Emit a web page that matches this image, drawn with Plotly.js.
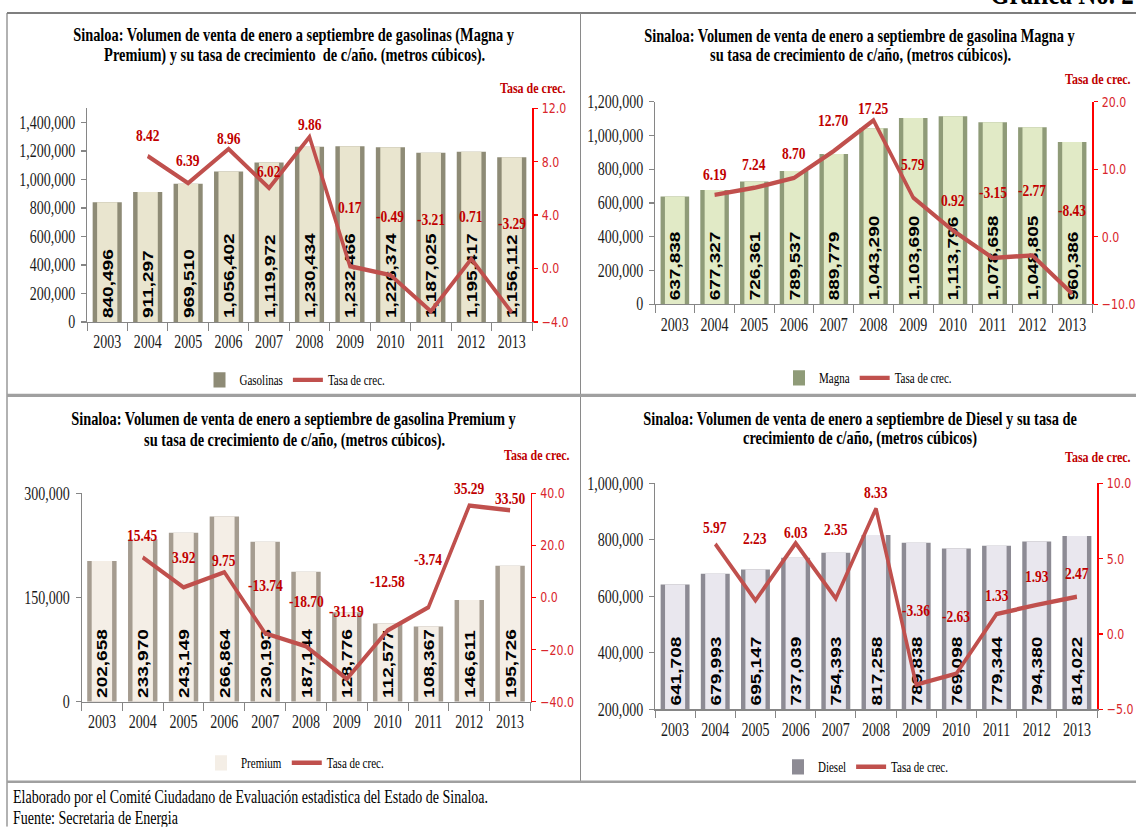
<!DOCTYPE html>
<html>
<head>
<meta charset="utf-8">
<script src="https://cdn.plot.ly/plotly-3.0.1.min.js"></script>
<style>
html,body{margin:0;padding:0;background:#fff;width:1136px;height:827px;overflow:hidden}
#wrap{position:relative;width:1136px;height:827px;overflow:hidden;background:#fff}
#chart{position:absolute;left:0;top:0;width:1136px;height:651px;transform:scaleY(1.27);transform-origin:0 0}
</style>
</head>
<body>
<div id="wrap"><div id="chart"></div></div>
<script>
// ---------------- data ----------------
const years = ['2003','2004','2005','2006','2007','2008','2009','2010','2011','2012','2013'];
const rateYears = years.slice(1);

const gasolinas = [840496, 911297, 969510, 1056402, 1119972, 1230434, 1232466, 1226374, 1187025, 1195417, 1156112];
const gasolinasRate = [8.42, 6.39, 8.96, 6.02, 9.86, 0.17, -0.49, -3.21, 0.71, -3.29];

const magna = [637838, 677327, 726361, 789537, 889779, 1043290, 1103690, 1113796, 1078658, 1048805, 960386];
const magnaRate = [6.19, 7.24, 8.70, 12.70, 17.25, 5.79, 0.92, -3.15, -2.77, -8.43];

const premium = [202658, 233970, 243149, 266864, 230193, 187144, 128776, 112577, 108367, 146611, 195726];
const premiumRate = [15.45, 3.92, 9.75, -13.74, -18.70, -31.19, -12.58, -3.74, 35.29, 33.50];

const diesel = [641708, 679993, 695147, 737039, 754393, 817258, 789838, 769098, 779344, 794380, 814022];
const dieselRate = [5.97, 2.23, 6.03, 2.35, 8.33, -3.36, -2.63, 1.33, 1.93, 2.47];

// label offsets above each rate point (reference pixels)
const gasLabelShift = [21, 23, 11, 17, 13, 58, 59, 92, 42, 89];
const magnaLabelShift = [20, 23, 25, 31, 12, 33, 31, 65, 65, 83];
const premLabelShift = [22, 31, 11, 49, 45, 67, 49, 48, 17, 12];
const dieselLabelShift = [16, 62, 10, 70, 16, 74, 57, 19, 29, 24];

// ---------------- geometry helpers ----------------
const S = 1.27, W = 1136, H = 827;
const px = x => x / W;
const py = y => 1 - y / H;

const SERIF = 'Liberation Serif, Times New Roman, serif';
const SANS = 'Liberation Sans, Arial, sans-serif';
const RED_TXT = '#c00000';
const LINE_COL = '#c0504d';

const panels = [
  {name:'Gasolinas', vals:gasolinas, rate:gasolinasRate, shift:gasLabelShift,
   outer:'#8e8b76', face:'#e9e5cf', xi:1, yl:1, yr:2, legend:'legend',
   dom:{x:[87,532], y:[108.3,322]}, yrange:[0,1500000], ydtick:200000, rrange:[-4,12], rdtick:4,
   title:['Sinaloa: Volumen de venta de enero a septiembre de gasolinas (Magna y','Premium) y su tasa de crecimiento  de c/año. (metros cúbicos).'],
   tcx:294, ty:[35,55], tasa:{x:498,y:88}, leg:{x:295,y:380}, legFace:false},
  {name:'Magna', vals:magna, rate:magnaRate, shift:magnaLabelShift,
   outer:'#8f9b78', face:'#e1eac6', xi:2, yl:3, yr:4, legend:'legend2',
   dom:{x:[655,1092], y:[101.7,304.3]}, yrange:[0,1200000], ydtick:200000, rrange:[-10,20], rdtick:10,
   title:['Sinaloa: Volumen de venta de enero a septiembre de gasolina Magna y','su tasa de crecimiento de c/año, (metros cúbicos).'],
   tcx:860, ty:[35,55], tasa:{x:1063,y:79}, leg:{x:868,y:378}, legFace:false},
  {name:'Premium', vals:premium, rate:premiumRate, shift:premLabelShift,
   outer:'#a59c90', face:'#f4eee6', xi:3, yl:5, yr:6, legend:'legend3',
   dom:{x:[81.5,530.5], y:[493.5,702]}, yrange:[0,300000], ydtick:150000, rrange:[-40,40], rdtick:20,
   title:['Sinaloa: Volumen de venta de enero a septiembre de gasolina Premium y','su tasa de crecimiento de c/año, (metros cúbicos).'],
   tcx:294, ty:[419,440], tasa:{x:502,y:455}, leg:{x:295,y:763}, legFace:true},
  {name:'Diesel', vals:diesel, rate:dieselRate, shift:dieselLabelShift,
   outer:'#8d8b94', face:'#e9e7ee', xi:4, yl:7, yr:8, legend:'legend4',
   dom:{x:[655,1097], y:[483.5,709.5]}, yrange:[200000,1000000], ydtick:200000, rrange:[-5,10], rdtick:5,
   title:['Sinaloa: Volumen de venta de enero a septiembre de Diesel y su tasa de','crecimiento de c/año, (metros cúbicos)'],
   tcx:860, ty:[419,439], tasa:{x:1063,y:457}, leg:{x:866,y:767}, legFace:false}
];

const axName = (p, i) => i === 1 ? p : p + i;
const axRef = (p, i) => i === 1 ? p : p + i;

const traces = [];
const annotations = [];
const layout = {
  width: W, height: Math.round(H / S),
  margin: {l:0, r:0, t:0, b:0},
  paper_bgcolor: '#fff', plot_bgcolor: 'rgba(0,0,0,0)',
  barmode: 'overlay',
  showlegend: true,
  font: {family: SERIF, color:'#000'},
  shapes: [],
  annotations: annotations
};

panels.forEach(p => {
  const xr = axRef('x', p.xi), ylr = axRef('y', p.yl), yrr = axRef('y', p.yr);
  // outer (edge) bar
  traces.push({
    type:'bar', x:years, y:p.vals, xaxis:xr, yaxis:ylr, width:0.72,
    marker:{color:p.outer, line:{width:0}}, name:p.name, legend:p.legend,
    showlegend:!p.legFace, hoverinfo:'skip'
  });
  // face bar
  traces.push({
    type:'bar', x:years, y:p.vals, xaxis:xr, yaxis:ylr, width:0.5,
    marker:{color:p.face, line:{width:0}}, name:p.name, legend:p.legend,
    showlegend:p.legFace, hoverinfo:'skip'
  });
  // value labels carried by a transparent full-width bar, anchored at the axis floor
  traces.push({
    type:'bar', x:years, y:p.vals, base:p.yrange[0], xaxis:xr, yaxis:ylr, width:0.72,
    marker:{color:'rgba(0,0,0,0)', line:{width:0}}, showlegend:false,
    text:p.vals.map(v => v.toLocaleString('en-US')),
    texttemplate:'%{text}', textposition:'inside', insidetextanchor:'start',
    textangle:-90, constraintext:'none',
    textfont:{family:SANS, size:15, color:'#000', weight:'bold'},
    hoverinfo:'skip'
  });
  // growth rate line
  traces.push({
    type:'scatter', mode:'lines', x:rateYears, y:p.rate, xaxis:xr, yaxis:yrr,
    line:{color:LINE_COL, width:3.5}, name:'Tasa de crec.', legend:p.legend,
    hoverinfo:'skip'
  });
  // rate labels
  p.rate.forEach((v, i) => {
    annotations.push({
      x:years.indexOf(rateYears[i]), y:v, xref:xr, yref:yrr, text:v.toFixed(2), showarrow:false,
      yshift:p.shift[i] / S, xanchor:'center', yanchor:'middle',
      font:{family:SERIF, size:13.5, color:RED_TXT, weight:'bold'}
    });
  });
  // axes
  layout[axName('xaxis', p.xi)] = {
    domain:[px(p.dom.x[0]), px(p.dom.x[1])], anchor:ylr, type:'category',
    range:[-0.5, 10.5], showline:true, linecolor:'#868686', linewidth:1,
    ticks:'outside', tickson:'boundaries', ticklen:6, tickcolor:'#868686',
    tickfont:{family:SERIF, size:14, color:'#1a1a1a'}, showgrid:false, zeroline:false,
    ticklabelstandoff:3, fixedrange:true
  };
  layout[axName('yaxis', p.yl)] = {
    domain:[py(p.dom.y[1]), py(p.dom.y[0])], anchor:xr, range:p.yrange, dtick:p.ydtick,
    tickformat:',', showline:true, linecolor:'#868686', linewidth:1,
    ticks:'outside', ticklen:5, tickcolor:'#868686',
    tickfont:{family:SERIF, size:14, color:'#1a1a1a'}, showgrid:false, zeroline:false,
    ticklabelstandoff:3, fixedrange:true
  };
  layout[axName('yaxis', p.yr)] = {
    overlaying:ylr, anchor:xr, side:'right', range:p.rrange, dtick:p.rdtick,
    tickformat:'.1f', showline:true, linecolor:'#ff0000', linewidth:1.5,
    ticks:'outside', ticklen:4, tickcolor:'#ff0000',
    tickfont:{family:'DejaVu Sans, sans-serif', size:11, color:'#d9262c'},
    showgrid:false, zeroline:false, ticklabelstandoff:2, fixedrange:true
  };
  // legend
  layout[p.legend] = {
    orientation:'h', x:px(p.leg.x), y:py(p.leg.y), xanchor:'center', yanchor:'middle',
    font:{family:SERIF, size:11, color:'#000'}, bgcolor:'rgba(0,0,0,0)', itemwidth:30,
    traceorder:'normal'
  };
  // titles
  p.title.forEach((t, k) => {
    annotations.push({
      x:px(p.tcx), y:py(p.ty[k]), xref:'paper', yref:'paper', text:t, showarrow:false,
      xanchor:'center', yanchor:'middle',
      font:{family:SERIF, size:14.4, color:'#000', weight:'bold'}
    });
  });
  annotations.push({
    x:px(p.tasa.x), y:py(p.tasa.y), xref:'paper', yref:'paper', text:'Tasa de crec.',
    showarrow:false, xanchor:'left', yanchor:'middle',
    font:{family:SERIF, size:12, color:RED_TXT, weight:'bold'}
  });
});

// page heading (cut off at top, as in the source) and footer
annotations.push({
  x:px(988), y:py(13), xref:'paper', yref:'paper', text:'Gráfica No. 2', showarrow:false,
  xanchor:'left', yanchor:'bottom', font:{family:SERIF, size:25, color:'#000', weight:'bold'}
});
annotations.push({
  x:px(11), y:py(797), xref:'paper', yref:'paper',
  text:'Elaborado por el Comité Ciudadano de Evaluación estadistica del Estado de Sinaloa.',
  showarrow:false, xanchor:'left', yanchor:'middle', font:{family:SERIF, size:14, color:'#000'}
});
annotations.push({
  x:px(11), y:py(819), xref:'paper', yref:'paper', text:'Fuente: Secretaria de Energia',
  showarrow:false, xanchor:'left', yanchor:'middle', font:{family:SERIF, size:14, color:'#000'}
});

// panel frame lines
const lineShape = (x0, y0, x1, y1, color, width) => ({
  type:'line', xref:'paper', yref:'paper', x0:px(x0), y0:py(y0), x1:px(x1), y1:py(y1),
  line:{color:color, width:width}, layer:'below'
});
layout.shapes.push(lineShape(7, 13, 1136, 13, '#7f7f7f', 1.5));
layout.shapes.push(lineShape(7, 13, 7, 827, '#7f7f7f', 1.2));
layout.shapes.push(lineShape(580.5, 13, 580.5, 782, '#8a8a8a', 1));
layout.shapes.push(lineShape(7, 395.5, 1136, 395.5, '#a0a0a0', 2.5));
layout.shapes.push(lineShape(7, 782, 1136, 782, '#a0a0a0', 2));

Plotly.newPlot('chart', traces, layout, {displayModeBar:false, staticPlot:true});
</script>
</body>
</html>
